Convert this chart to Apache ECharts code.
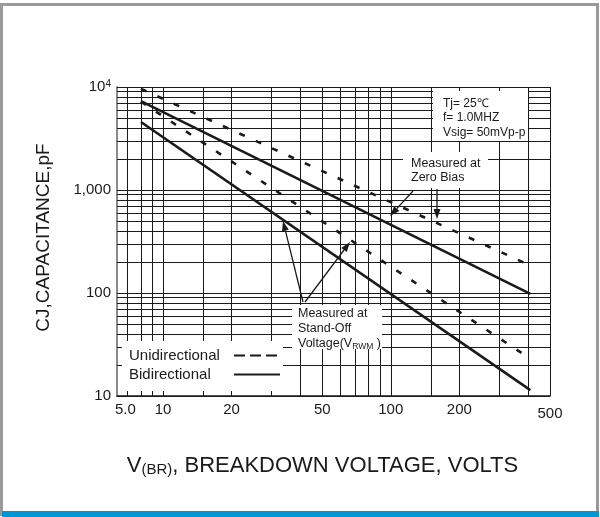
<!DOCTYPE html>
<html>
<head>
<meta charset="utf-8">
<title>CJ vs V(BR)</title>
<script src="https://cdn.jsdelivr.net/npm/echarts@6/dist/echarts.min.js"></script>
<style>
  html, body { margin: 0; padding: 0; background: #fff; }
  #chart { width: 600px; height: 517px; }
</style>
</head>
<body>
<div id="chart"></div>
<script>
// breakdown voltage (V) at both ends of each curve
const voltage = [8, 410]
// capacitance (pF) at those voltages
const uniZeroBias = [9600, 185]
const uniStandOff = [7200, 23]
const biZeroBias = [7300, 98]
const biStandOff = [4570, 11.4]

const xMin = 6.28
const xMax = 500
const xTickValues = [6.3, 10, 20, 50, 100, 200, 500]
const xTickLabels = ['5.0', '10', '20', '50', '100', '200', '500']
const yTickValues = [10, 100, 1000, 10000]
const yTickLabels = ['10', '100', '1,000', '10{sup|4}']
const xGridValues = [7, 8, 9, 10, 15, 20, 30, 40, 50, 60, 70, 80, 90, 100, 150, 200, 300, 400, 500]
const yGridValues = [10, 20, 30, 40, 50, 60, 70, 80, 90, 100, 200, 300, 400, 500, 600, 700, 800, 900,
  1000, 2000, 3000, 4000, 5000, 6000, 7000, 8000, 9000, 10000]

const font = '"Liberation Sans", Arial, sans-serif'
const ink = '#1a1a1a'

function curve(values) {
  return voltage.map((v, i) => [v, values[i]])
}

function pick(values, labels, v) {
  let best = 0
  values.forEach((t, i) => {
    if (Math.abs(Math.log(t / v)) < Math.abs(Math.log(values[best] / v))) best = i
  })
  return labels[best]
}

// arrow = shaft + filled head
function arrow(x1, y1, x2, y2) {
  const a = Math.atan2(y2 - y1, x2 - x1)
  const len = 10, half = 3.5
  const bx = x2 - len * Math.cos(a), by = y2 - len * Math.sin(a)
  const nx = -Math.sin(a) * half, ny = Math.cos(a) * half
  return [
    { type: 'line', z: 5, shape: { x1: x1, y1: y1, x2: bx, y2: by }, style: { stroke: ink, lineWidth: 1.3 } },
    { type: 'polygon', z: 5, shape: { points: [[x2, y2], [bx + nx, by + ny], [bx - nx, by - ny]] }, style: { fill: ink } }
  ]
}

function mask(x, y, w, h) {
  return { type: 'rect', z: 1, shape: { x: x, y: y, width: w, height: h }, style: { fill: '#fff' } }
}

const chart = echarts.init(document.getElementById('chart'))

const option = {
  animation: false,
  backgroundColor: '#fff',
  grid: { left: 117, right: 50, top: 87, bottom: 121, outerBoundsMode: 'none' },
  xAxis: {
    type: 'log',
    min: xMin,
    max: xMax,
    name: '{v|V}{s|(BR)}{v|, BREAKDOWN VOLTAGE, VOLTS}',
    nameLocation: 'middle',
    nameGap: 59,
    nameMoveOverlap: false,
    nameTextStyle: {
      padding: [0, 22, 0, 0],
      rich: {
        v: { fontSize: 22, fontFamily: font, color: ink },
        s: { fontSize: 15, fontFamily: font, color: ink, verticalAlign: 'bottom' }
      }
    },
    axisLine: { lineStyle: { color: ink, width: 1.5 } },
    axisTick: {
      show: true, inside: true, length: 309, customValues: xGridValues,
      lineStyle: { color: ink, width: 1 }
    },
    splitLine: { show: false },
    minorTick: { show: false },
    axisLabel: {
      customValues: xTickValues,
      margin: 6,
      fontSize: 15,
      fontFamily: font,
      color: ink,
      formatter: function (v) {
        const t = pick(xTickValues, xTickLabels, v)
        if (t === '5.0') return '{first|' + t + '}'
        if (t === '500') return '{last|' + t + '}'
        return t
      },
      rich: {
        first: { fontSize: 15, fontFamily: font, color: ink, padding: [0, 0, 0, 16] },
        last: { fontSize: 15, fontFamily: font, color: ink, padding: [4, 0, 0, 0] }
      }
    }
  },
  yAxis: {
    type: 'log',
    min: 10,
    max: 10000,
    name: 'CJ,CAPACITANCE,pF',
    nameLocation: 'middle',
    nameRotate: 90,
    nameGap: 64,
    nameMoveOverlap: false,
    nameTextStyle: { fontSize: 19, fontFamily: font, color: ink, padding: [0, 0, 0, 8] },
    axisLine: { lineStyle: { color: '#8a8a8a', width: 2 } },
    axisTick: {
      show: true, inside: true, length: 433, customValues: yGridValues,
      lineStyle: { color: ink, width: 1 }
    },
    splitLine: { show: false },
    minorTick: { show: false },
    axisLabel: {
      customValues: yTickValues,
      margin: 6,
      fontSize: 15,
      fontFamily: font,
      color: ink,
      formatter: function (v) {
        return pick(yTickValues, yTickLabels, v)
      },
      rich: {
        sup: { fontSize: 10, fontFamily: font, color: ink, verticalAlign: 'top', padding: [0, 0, 6, 0] }
      }
    }
  },
  legend: {
    orient: 'vertical',
    left: 124,
    top: 343,
    align: 'right',
    itemWidth: 46,
    itemHeight: 14,
    itemGap: 4,
    itemStyle: { opacity: 0 },
    formatter: function (name) {
      return '{t|' + name + '}'
    },
    textStyle: {
      color: ink,
      rich: { t: { fontSize: 15, fontFamily: font, color: ink, width: 100, align: 'left', lineHeight: 16 } }
    },
    data: [
      { name: 'Unidirectional', lineStyle: { type: [11, 5] } },
      { name: 'Bidirectional' }
    ]
  },
  series: [
    {
      name: 'Unidirectional', type: 'line', symbol: 'none', z: 3,
      data: curve(uniZeroBias),
      lineStyle: { color: ink, width: 2.6, type: [6, 12] }
    },
    {
      name: 'Unidirectional', type: 'line', symbol: 'none', z: 3,
      data: curve(uniStandOff),
      lineStyle: { color: ink, width: 2.6, type: [6, 12] }
    },
    {
      name: 'Bidirectional', type: 'line', symbol: 'none', z: 3,
      data: curve(biZeroBias),
      lineStyle: { color: ink, width: 2.6 }
    },
    {
      name: 'Bidirectional', type: 'line', symbol: 'none', z: 3,
      data: curve(biStandOff),
      lineStyle: { color: ink, width: 2.6 }
    }
  ],
  graphic: [
    // page frame and blue footer bar
    { type: 'rect', z: 0, shape: { x: 1.5, y: 4.5, width: 596, height: 510 }, style: { fill: 'none', stroke: '#9a9a9a', lineWidth: 3 } },
    { type: 'rect', z: 6, shape: { x: 2, y: 511, width: 597, height: 6 }, style: { fill: '#0096d6' } },
    // white boxes behind the notes
    mask(433, 91, 95, 50),
    mask(403, 152, 85, 36),
    mask(292, 305, 90, 44),
    mask(122, 341, 161, 50),
    {
      type: 'text', z: 5, x: 443, y: 96,
      style: { text: 'Tj= 25℃\nf= 1.0MHZ\nVsig= 50mVp-p', font: '12px ' + font, fill: ink, lineHeight: 14.5, verticalAlign: 'top' }
    },
    {
      type: 'text', z: 5, x: 411, y: 157,
      style: { text: 'Measured at\nZero Bias', font: '12.5px ' + font, fill: ink, lineHeight: 13.5, verticalAlign: 'top' }
    },
    {
      type: 'text', z: 5, x: 298, y: 306,
      style: {
        text: '{a|Measured at}\n{a|Stand-Off}\n{a|Voltage(V}{b|RWM}{a| )}',
        fill: ink,
        verticalAlign: 'top',
        rich: {
          a: { fontSize: 12.5, fontFamily: font, fill: ink, lineHeight: 15 },
          b: { fontSize: 8.5, fontFamily: font, fill: ink, lineHeight: 15, verticalAlign: 'bottom' }
        }
      }
    }
  ]
    .concat(arrow(413, 191, 390, 216))
    .concat(arrow(437, 189, 437, 219))
    .concat(arrow(303, 302, 283, 221))
    .concat(arrow(305, 302, 350, 242))
}

chart.setOption(option)
</script>
</body>
</html>
